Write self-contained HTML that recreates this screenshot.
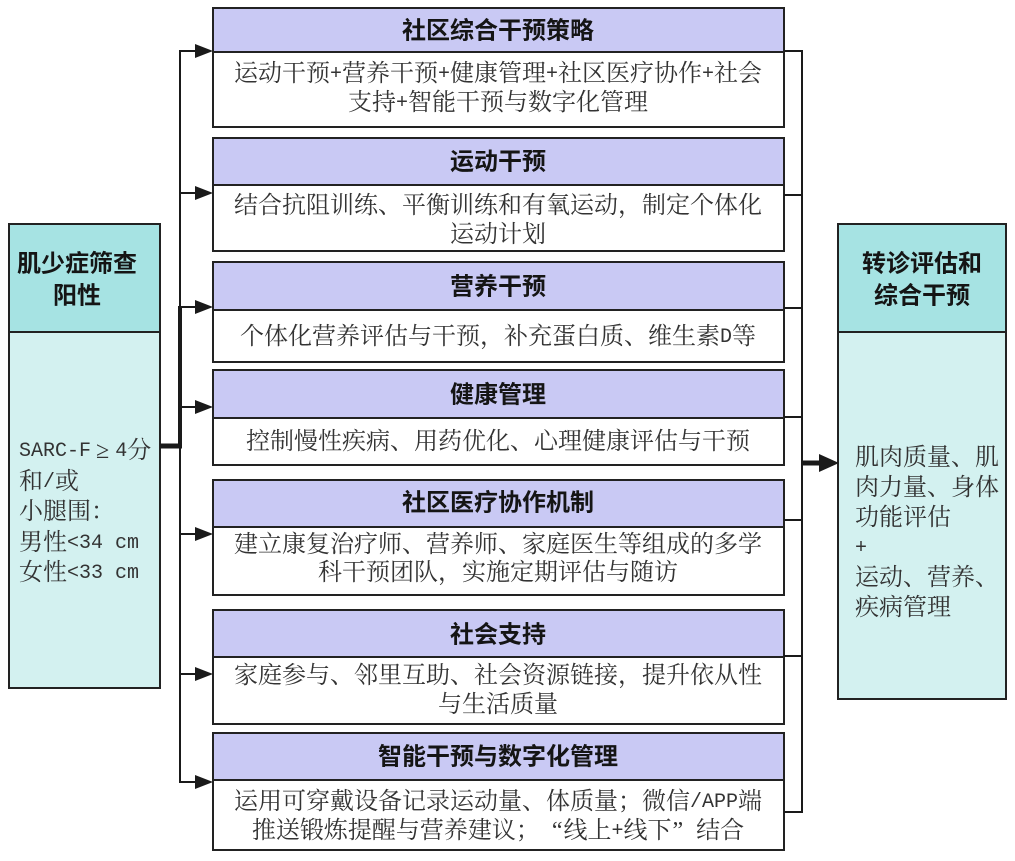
<!DOCTYPE html>
<html>
<head>
<meta charset="utf-8">
<style>
html,body{margin:0;padding:0;background:#fff;}
svg{display:block;}
.h{font-family:"Liberation Sans","Noto Sans CJK SC",sans-serif;font-weight:700;font-size:24px;fill:#151515;}
.b{font-family:"Liberation Serif","Noto Serif CJK SC",serif;font-size:24px;fill:#333;}
.m{font-family:"Liberation Mono",monospace;font-size:20px;}
</style>
</head>
<body>
<svg width="1015" height="861" viewBox="0 0 1015 861" xmlns="http://www.w3.org/2000/svg">
<rect x="0" y="0" width="1015" height="861" fill="#fff"/>

<!-- middle boxes -->
<g stroke="#222" stroke-width="2">
  <rect x="213" y="8" width="571" height="119" fill="#fff"/>
  <rect x="213" y="8" width="571" height="44" fill="#c9c9f4"/>

  <rect x="213" y="138" width="571" height="113" fill="#fff"/>
  <rect x="213" y="138" width="571" height="47" fill="#c9c9f4"/>

  <rect x="213" y="262" width="571" height="100" fill="#fff"/>
  <rect x="213" y="262" width="571" height="48" fill="#c9c9f4"/>

  <rect x="213" y="370" width="571" height="95" fill="#fff"/>
  <rect x="213" y="370" width="571" height="48" fill="#c9c9f4"/>

  <rect x="213" y="480" width="571" height="115" fill="#fff"/>
  <rect x="213" y="480" width="571" height="47" fill="#c9c9f4"/>

  <rect x="213" y="610" width="571" height="114" fill="#fff"/>
  <rect x="213" y="610" width="571" height="47" fill="#c9c9f4"/>

  <rect x="213" y="733" width="571" height="117" fill="#fff"/>
  <rect x="213" y="733" width="571" height="47" fill="#c9c9f4"/>

  <!-- left box -->
  <rect x="9" y="224" width="151" height="464" fill="#d3f1f0"/>
  <rect x="9" y="224" width="151" height="108" fill="#a6e3e3"/>

  <!-- right box -->
  <rect x="838" y="224" width="168" height="475" fill="#d3f1f0"/>
  <rect x="838" y="224" width="168" height="108" fill="#a6e3e3"/>
</g>

<!-- left connectors -->
<g stroke="#1a1a1a" fill="none">
  <line x1="180" y1="50" x2="180" y2="783" stroke-width="2"/>
  <line x1="180" y1="306" x2="180" y2="448" stroke-width="4"/>
  <line x1="160" y1="446" x2="182" y2="446" stroke-width="5"/>
  <line x1="179" y1="51" x2="197" y2="51" stroke-width="2"/>
  <line x1="179" y1="193" x2="197" y2="193" stroke-width="2"/>
  <line x1="179" y1="307" x2="197" y2="307" stroke-width="2"/>
  <line x1="179" y1="407" x2="197" y2="407" stroke-width="2"/>
  <line x1="179" y1="534" x2="197" y2="534" stroke-width="2"/>
  <line x1="179" y1="674" x2="197" y2="674" stroke-width="2"/>
  <line x1="179" y1="782" x2="197" y2="782" stroke-width="2"/>
</g>
<g fill="#1a1a1a">
  <polygon points="195,44 213,51 195,58"/>
  <polygon points="195,186 213,193 195,200"/>
  <polygon points="195,300 213,307 195,314"/>
  <polygon points="195,400 213,407 195,414"/>
  <polygon points="195,527 213,534 195,541"/>
  <polygon points="195,667 213,674 195,681"/>
  <polygon points="195,775 213,782 195,789"/>
</g>

<!-- right connectors -->
<g stroke="#1a1a1a" fill="none" stroke-width="2">
  <line x1="802" y1="50" x2="802" y2="813"/>
  <line x1="784" y1="51" x2="803" y2="51"/>
  <line x1="784" y1="195" x2="803" y2="195"/>
  <line x1="784" y1="308" x2="803" y2="308"/>
  <line x1="784" y1="417" x2="803" y2="417"/>
  <line x1="784" y1="520" x2="803" y2="520"/>
  <line x1="784" y1="656" x2="803" y2="656"/>
  <line x1="784" y1="812" x2="803" y2="812"/>
  <line x1="801" y1="463" x2="823" y2="463" stroke-width="5"/>
</g>
<polygon points="819,454 839,463 819,472" fill="#1a1a1a"/>

<!-- middle texts -->
<g text-anchor="middle" dominant-baseline="central">
  <text class="h" x="498" y="31">社区综合干预策略</text>
  <text class="b" x="498" y="74">运动干预<tspan class="m">+</tspan>营养干预<tspan class="m">+</tspan>健康管理<tspan class="m">+</tspan>社区医疗协作<tspan class="m">+</tspan>社会</text>
  <text class="b" x="498" y="103">支持<tspan class="m">+</tspan>智能干预与数字化管理</text>

  <text class="h" x="498" y="162">运动干预</text>
  <text class="b" x="498" y="206">结合抗阻训练、平衡训练和有氧运动，制定个体化</text>
  <text class="b" x="498" y="235">运动计划</text>

  <text class="h" x="498" y="287">营养干预</text>
  <text class="b" x="498" y="337">个体化营养评估与干预，补充蛋白质、维生素<tspan class="m">D</tspan>等</text>

  <text class="h" x="498" y="395">健康管理</text>
  <text class="b" x="498" y="442">控制慢性疾病、用药优化、心理健康评估与干预</text>

  <text class="h" x="498" y="503">社区医疗协作机制</text>
  <text class="b" x="498" y="545">建立康复治疗师、营养师、家庭医生等组成的多学</text>
  <text class="b" x="498" y="573">科干预团队，实施定期评估与随访</text>

  <text class="h" x="498" y="635">社会支持</text>
  <text class="b" x="498" y="676">家庭参与、邻里互助、社会资源链接，提升依从性</text>
  <text class="b" x="498" y="705">与生活质量</text>

  <text class="h" x="498" y="757">智能干预与数字化管理</text>
  <text class="b" x="498" y="802">运用可穿戴设备记录运动量、体质量；微信<tspan class="m">/APP</tspan>端</text>
  <text class="b" x="498" y="831">推送锻炼提醒与营养建议；<tspan dx="12">“</tspan><tspan dx="1">线上</tspan><tspan class="m">+</tspan>线下<tspan dx="1">”</tspan><tspan dx="13">结合</tspan></text>

  <!-- left header -->
  <text class="h" x="77" y="264">肌少症筛查</text>
  <text class="h" x="77" y="296">阳性</text>

  <!-- right header -->
  <text class="h" x="922" y="264">转诊评估和</text>
  <text class="h" x="922" y="296">综合干预</text>
</g>

<!-- left body -->
<g dominant-baseline="central">
  <text class="b" x="19" y="451"><tspan class="m">SARC-F</tspan><tspan dx="5">≥</tspan><tspan class="m" dx="6">4</tspan>分</text>
  <text class="b" x="19" y="482">和<tspan class="m">/</tspan>或</text>
  <text class="b" x="19" y="512">小腿围：</text>
  <text class="b" x="19" y="543">男性<tspan class="m">&lt;34 cm</tspan></text>
  <text class="b" x="19" y="573">女性<tspan class="m">&lt;33 cm</tspan></text>
</g>

<!-- right body -->
<g dominant-baseline="central">
  <text class="b" x="855" y="458">肌肉质量、肌</text>
  <text class="b" x="855" y="488">肉力量、身体</text>
  <text class="b" x="855" y="518">功能评估</text>
  <text class="b" x="855" y="548"><tspan class="m">+</tspan></text>
  <text class="b" x="855" y="578">运动、营养、</text>
  <text class="b" x="855" y="608">疾病管理</text>
</g>
</svg>
</body>
</html>
